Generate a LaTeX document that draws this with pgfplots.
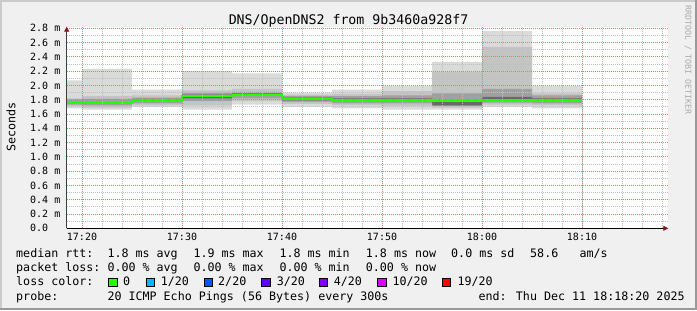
\documentclass[border=0pt]{standalone}
\usepackage{fontspec}
\setmainfont{DejaVu Sans Mono}
\usepackage{pgfplots}
\pgfplotsset{compat=1.18}
\usepackage{pgfplotstable}
\usetikzlibrary{arrows.meta}
\definecolor{bg}{HTML}{F0F0F0}
\definecolor{shadea}{HTML}{CBCBCB}
\definecolor{shadeb}{HTML}{999999}
\definecolor{majgrid}{HTML}{FF7070}
\definecolor{mingrid}{HTML}{C0C0C0}
\definecolor{arrowc}{HTML}{7F1F1F}
\definecolor{axisc}{HTML}{404040}
\definecolor{wm}{HTML}{AAAAAA}
\definecolor{Lone}{HTML}{DADADA}
\definecolor{Ltwo}{HTML}{C4C4C4}
\definecolor{Lthree}{HTML}{A0A0A0}
\definecolor{Lfour}{HTML}{6A6A6A}
\definecolor{medc}{HTML}{26FF00}
\definecolor{cz}{HTML}{26FF00}
\definecolor{ca}{HTML}{00B8FF}
\definecolor{cb}{HTML}{0059FF}
\definecolor{cc}{HTML}{5E00FF}
\definecolor{cd}{HTML}{7E00FF}
\definecolor{ce}{HTML}{DD00FF}
\definecolor{cf}{HTML}{FF0000}
\newcommand\lf{\fontsize{11.67bp}{14bp}\selectfont}
\pgfplotstableread{
x     mn   q10  q25  q40  q60  q75  q90  mx   med
18.47 1.68 1.71 1.73 1.75 1.78 1.80 1.82 2.07 1.76
20    1.66 1.69 1.72 1.74 1.78 1.81 1.85 2.23 1.76
25    1.70 1.72 1.75 1.77 1.81 1.83 1.86 1.94 1.79
30    1.66 1.72 1.78 1.82 1.87 1.90 1.93 2.20 1.85
35    1.73 1.78 1.82 1.85 1.89 1.91 1.95 2.17 1.87
40    1.70 1.74 1.77 1.79 1.83 1.85 1.87 1.90 1.81
45    1.68 1.72 1.75 1.78 1.82 1.85 1.88 1.94 1.80
50    1.66 1.71 1.75 1.78 1.82 1.86 1.92 1.99 1.80
55    1.66 1.69 1.71 1.72 1.77 1.89 2.19 2.33 1.78
60    1.70 1.73 1.76 1.78 1.84 1.95 2.54 2.76 1.80
65    1.68 1.72 1.75 1.77 1.82 1.86 1.89 1.99 1.79
70    1.68 1.72 1.75 1.77 1.82 1.86 1.89 1.99 1.79
}\smoke
\begin{document}
\begin{tikzpicture}
\begin{scope}[x=1bp,y=1bp]
\fill[bg] (0,0) rectangle (697,310);
\fill[shadea] (0,308) rectangle (697,310);
\fill[shadea] (0,0) rectangle (2,310);
\fill[shadeb] (0,0) rectangle (697,2);
\fill[shadeb] (695,0) rectangle (697,310);
\end{scope}
\begin{axis}[
  at={(66.7bp,81.7bp)}, anchor=south west,
  scale only axis, width=601.6bp, height=201.6bp,
  xmin=18.47, xmax=78.63, ymin=0, ymax=2.822,
  axis on top, no markers,
  axis background/.style={fill=white},
  axis x line*=bottom, axis y line*=left,
  x axis line style={draw=black, line width=0.8bp, -{Triangle[length=5bp,width=5bp,color=arrowc]}},
  y axis line style={draw=axisc, line width=0.8bp, -{Triangle[length=5bp,width=5bp,color=arrowc]}},
  grid=both,
  major grid style={majgrid, dash pattern=on 1bp off 1bp, line width=0.8bp},
  minor grid style={mingrid, dash pattern=on 1bp off 1bp, line width=0.8bp},
  major tick length=0pt, minor tick length=0pt,
  xtick={20,30,40,50,60,70},
  xticklabels={17:20,17:30,17:40,17:50,18:00,18:10},
  minor xtick={22,24,26,28,32,34,36,38,42,44,46,48,52,54,56,58,62,64,66,68,72,74,76,78},
  ytick={0,0.2,0.4,0.6,0.8,1.0,1.2,1.4,1.6,1.8,2.0,2.2,2.4,2.6,2.8},
  yticklabels={0.0,0.2 m,0.4 m,0.6 m,0.8 m,1.0 m,1.2 m,1.4 m,1.6 m,1.8 m,2.0 m,2.2 m,2.4 m,2.6 m,2.8 m},
  minor ytick={0.1,0.3,0.5,0.7,0.9,1.1,1.3,1.5,1.7,1.9,2.1,2.3,2.5,2.7},
  xticklabel style={font=\fontsize{10bp}{12bp}\selectfont, anchor=north, inner sep=0pt, yshift=-4.2bp},
  yticklabel style={font=\fontsize{10bp}{12bp}\selectfont, anchor=west, inner sep=0pt, xshift=-36.7bp},
]
\addplot[const plot, fill=Lone, draw=none] table[x=x,y=mx]{\smoke} \closedcycle;
\addplot[const plot, fill=Ltwo, draw=none] table[x=x,y=q90]{\smoke} \closedcycle;
\addplot[const plot, fill=Lthree, draw=none] table[x=x,y=q75]{\smoke} \closedcycle;
\addplot[const plot, fill=Lfour, draw=none] table[x=x,y=q60]{\smoke} \closedcycle;
\addplot[const plot, fill=Lthree, draw=none] table[x=x,y=q40]{\smoke} \closedcycle;
\addplot[const plot, fill=Ltwo, draw=none] table[x=x,y=q25]{\smoke} \closedcycle;
\addplot[const plot, fill=Lone, draw=none] table[x=x,y=q10]{\smoke} \closedcycle;
\addplot[const plot, fill=white, draw=none] table[x=x,y=mn]{\smoke} \closedcycle;
\addplot[const plot, draw=medc, line width=2.4bp] table[x=x,y=med]{\smoke};
\end{axis}
\begin{scope}[x=1bp,y=1bp]
\node[anchor=base, inner sep=0pt] at (348.5,285.7) {\fontsize{13.26bp}{16bp}\selectfont DNS/OpenDNS2 from 9b3460a928f7};
\node[rotate=90, inner sep=0pt] at (11,183) {\lf Seconds};
\node[rotate=-90, inner sep=0pt, text=wm] at (688,250) {\fontsize{8.3bp}{10bp}\selectfont RRDTOOL / TOBI OETIKER};
% legend row 1
\node[anchor=base west, inner sep=0pt] at (16,52.3) {\lf median rtt:};
\node[anchor=base west, inner sep=0pt] at (107.3,52.3) {\lf 1.8 ms avg};
\node[anchor=base west, inner sep=0pt] at (193.3,52.3) {\lf 1.9 ms max};
\node[anchor=base west, inner sep=0pt] at (279.3,52.3) {\lf 1.8 ms min};
\node[anchor=base west, inner sep=0pt] at (365.7,52.3) {\lf 1.8 ms now};
\node[anchor=base west, inner sep=0pt] at (451,52.3) {\lf 0.0 ms sd};
\node[anchor=base west, inner sep=0pt] at (530,52.3) {\lf 58.6};
\node[anchor=base west, inner sep=0pt] at (579.3,52.3) {\lf am/s};
% row 2
\node[anchor=base west, inner sep=0pt] at (16,38.2) {\lf packet loss:};
\node[anchor=base west, inner sep=0pt] at (107.3,38.2) {\lf 0.00 \% avg};
\node[anchor=base west, inner sep=0pt] at (193.3,38.2) {\lf 0.00 \% max};
\node[anchor=base west, inner sep=0pt] at (279.3,38.2) {\lf 0.00 \% min};
\node[anchor=base west, inner sep=0pt] at (365.7,38.2) {\lf 0.00 \% now};
% row 3
\node[anchor=base west, inner sep=0pt] at (16,24.1) {\lf loss color:};
\draw[fill=cz, line width=0.8bp] (108.7,23.3) rectangle (117,31.7);
\node[anchor=base west, inner sep=0pt] at (123,24.1) {\lf 0};
\draw[fill=ca, line width=0.8bp] (146,23.3) rectangle (154.3,31.7);
\node[anchor=base west, inner sep=0pt] at (160.7,24.1) {\lf 1/20};
\draw[fill=cb, line width=0.8bp] (204,23.3) rectangle (212.3,31.7);
\node[anchor=base west, inner sep=0pt] at (218,24.1) {\lf 2/20};
\draw[fill=cc, line width=0.8bp] (261.7,23.3) rectangle (270,31.7);
\node[anchor=base west, inner sep=0pt] at (276.7,24.1) {\lf 3/20};
\draw[fill=cd, line width=0.8bp] (319.3,23.3) rectangle (327.6,31.7);
\node[anchor=base west, inner sep=0pt] at (333.7,24.1) {\lf 4/20};
\draw[fill=ce, line width=0.8bp] (377.7,23.3) rectangle (386,31.7);
\node[anchor=base west, inner sep=0pt] at (392.3,24.1) {\lf 10/20};
\draw[fill=cf, line width=0.8bp] (442.3,23.3) rectangle (450.6,31.7);
\node[anchor=base west, inner sep=0pt] at (457.3,24.1) {\lf 19/20};
% row 4
\node[anchor=base west, inner sep=0pt] at (16,10) {\lf probe:};
\node[anchor=base west, inner sep=0pt] at (107.3,10) {\lf 20 ICMP Echo Pings (56 Bytes) every 300s};
\node[anchor=base west, inner sep=0pt] at (478.3,10) {\lf end: Thu Dec 11 18:18:20 2025};
\end{scope}
\end{tikzpicture}
\end{document}
